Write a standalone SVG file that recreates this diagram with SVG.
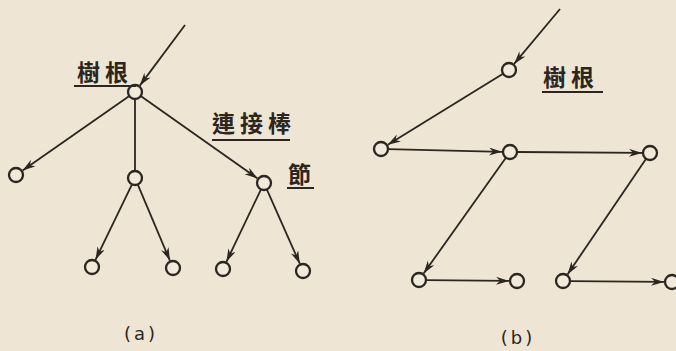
<svg xmlns="http://www.w3.org/2000/svg" width="676" height="351" viewBox="0 0 676 351">
<style>
.bg{fill:#eee5d4}
.edge{stroke:#2b2620;stroke-width:1.8;fill:none}
.arr{marker-end:url(#ah)}
.node circle{fill:#f1e9da;stroke:#2b2620;stroke-width:2.3}
.lbl{font-family:"Noto Sans CJK TC","Noto Sans CJK SC",sans-serif;font-weight:bold;fill:#2b2620;font-size:23px;letter-spacing:5px}
.ul{stroke:#2b2620;stroke-width:2}
.cap{font-family:"DejaVu Sans","Liberation Sans",sans-serif;fill:#2b2620;font-size:18px;letter-spacing:3px}
</style>
<defs>
<marker id="ah" markerUnits="userSpaceOnUse" markerWidth="14" markerHeight="10" refX="13" refY="4" orient="auto">
<path d="M0,0 L13,4 L0,8 L4,4 Z" fill="#2b2620"/>
</marker>
</defs>
<rect class="bg" x="0" y="0" width="676" height="351"/>

<g id="connectors">
<!-- (a) -->
<line class="edge arr" x1="185" y1="25" x2="139.8" y2="85.6"/>
<line class="edge arr" x1="129.3" y1="96" x2="22.6" y2="170.4"/>
<line class="edge" x1="135" y1="99" x2="135" y2="171"/>
<line class="edge arr" x1="140.7" y1="96" x2="257.5" y2="178.4"/>
<line class="edge arr" x1="132" y1="184.3" x2="95.5" y2="259.8"/>
<line class="edge arr" x1="137.7" y1="184.4" x2="169.9" y2="260.6"/>
<line class="edge arr" x1="261" y1="189.3" x2="226.4" y2="261.8"/>
<line class="edge arr" x1="266.8" y1="189.4" x2="299.8" y2="263.7"/>
<!-- (b) -->
<line class="edge arr" x1="560" y1="9" x2="514.1" y2="63.9"/>
<line class="edge arr" x1="503" y1="73.7" x2="387.8" y2="144.8"/>
<line class="edge arr" x1="388" y1="149.2" x2="502" y2="151.8"/>
<line class="edge arr" x1="517" y1="152" x2="642" y2="152.9"/>
<line class="edge arr" x1="505.9" y1="157.7" x2="423.6" y2="273.5"/>
<line class="edge arr" x1="426" y1="280.1" x2="509" y2="280.9"/>
<line class="edge arr" x1="646.1" y1="158.8" x2="567.5" y2="274.4"/>
<line class="edge arr" x1="570" y1="281.1" x2="664" y2="281.9"/>
</g>

<!-- (a) nodes -->
<g id="a-root" class="node"><circle cx="135" cy="92" r="7"/></g>
<g id="a-n1" class="node"><circle cx="16" cy="175" r="7"/></g>
<g id="a-n2" class="node"><circle cx="135" cy="178" r="7"/></g>
<g id="a-n3" class="node"><circle cx="264" cy="183" r="7"/></g>
<g id="a-n4" class="node"><circle cx="92" cy="267" r="7"/></g>
<g id="a-n5" class="node"><circle cx="173" cy="268" r="7"/></g>
<g id="a-n6" class="node"><circle cx="223" cy="269" r="7"/></g>
<g id="a-n7" class="node"><circle cx="303" cy="271" r="7"/></g>

<!-- (b) nodes -->
<g id="b-root" class="node"><circle cx="509" cy="70" r="7"/></g>
<g id="b-n1" class="node"><circle cx="381" cy="149" r="7"/></g>
<g id="b-n2" class="node"><circle cx="510" cy="152" r="7"/></g>
<g id="b-n3" class="node"><circle cx="650" cy="153" r="7"/></g>
<g id="b-n4" class="node"><circle cx="419" cy="280" r="7"/></g>
<g id="b-n5" class="node"><circle cx="517" cy="281" r="7"/></g>
<g id="b-n6" class="node"><circle cx="563" cy="281" r="7"/></g>
<g id="b-n7" class="node"><circle cx="672" cy="282" r="7"/></g>

<!-- labels -->
<g id="lbl-a-root">
<text class="lbl" x="77" y="81">樹根</text>
<line class="ul" x1="74" y1="86" x2="136" y2="86"/>
</g>
<g id="lbl-a-edge">
<text class="lbl" x="212" y="132">連接棒</text>
<line class="ul" x1="212" y1="140" x2="290" y2="140"/>
</g>
<g id="lbl-a-node">
<text class="lbl" x="288" y="183">節</text>
<line class="ul" x1="287" y1="188" x2="314" y2="188"/>
</g>
<g id="lbl-b-root">
<text class="lbl" x="543" y="86">樹根</text>
<line class="ul" x1="542" y1="92" x2="603" y2="92"/>
</g>
<text class="cap" x="141" y="340" text-anchor="middle">(a)</text>
<text class="cap" x="518" y="344" text-anchor="middle">(b)</text>
</svg>
